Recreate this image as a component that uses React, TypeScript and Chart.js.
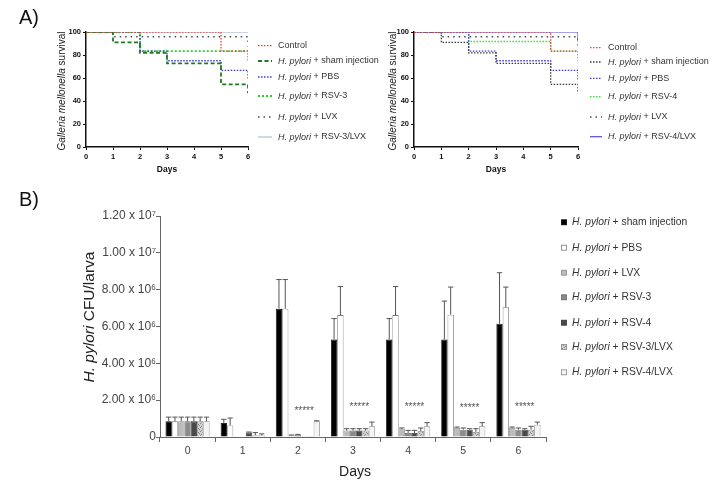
import React, { useEffect, useRef } from "react";
import { Chart, registerables } from "chart.js";
Chart.register(...registerables);

const FONT = '"Liberation Sans", Arial, Helvetica, sans-serif';

// ---------- Panel A: survival (Kaplan-Meier) ----------
const survivalDays = [0, 1, 2, 3, 4, 5, 6];
const survivalTicks = [0, 20, 40, 60, 80, 100];

const leftLabels = [
  "Control",
  "H. pylori + sham injection",
  "H. pylori + PBS",
  "H. pylori + RSV-3",
  "H. pylori + LVX",
  "H. pylori + RSV-3/LVX",
];
const leftControl = [100, 100, 100, 100, 100, 83.3, 75];
const leftSham = [100, 90.9, 81.8, 72.7, 72.7, 54.5, 46.7];
const leftPBS = [100, 100, 83.3, 75, 75, 66.7, 58.3];
const leftRSV3 = [100, 100, 83.3, 83.3, 83.3, 83.3, 83.3];
const leftLVX = [100, 95.8, 95.8, 95.8, 95.8, 95.8, 87.5];
const leftRSV3LVX = [100, 100, 100, 100, 100, 100, 100];

const rightLabels = [
  "Control",
  "H. pylori + sham injection",
  "H. pylori + PBS",
  "H. pylori + RSV-4",
  "H. pylori + LVX",
  "H. pylori + RSV-4/LVX",
];
const rightControl = [100, 100, 100, 100, 100, 83.3, 75];
const rightSham = [100, 90.9, 81.8, 72.7, 72.7, 54.5, 46.7];
const rightPBS = [100, 100, 83.3, 75, 75, 66.7, 58.3];
const rightRSV4 = [100, 100, 91.7, 91.7, 91.7, 83.3, 83.3];
const rightLVX = [100, 95.8, 95.8, 95.8, 95.8, 95.8, 87.5];
const rightRSV4LVX = [100, 100, 100, 100, 100, 100, 91.7];

// ---------- Panel B: CFU per larva (values in millions) ----------
const cfuDays = ["0", "1", "2", "3", "4", "5", "6"];
const cfuTickLabels = ["0", "2.00 x 10\u2076", "4.00 x 10\u2076", "6.00 x 10\u2076", "8.00 x 10\u2076", "1.00 x 10\u2077", "1.20 x 10\u2077"];
const cfuLabels = [
  "H. pylori + sham injection",
  "H. pylori + PBS",
  "H. pylori + LVX",
  "H. pylori + RSV-3",
  "H. pylori + RSV-4",
  "H. pylori + RSV-3/LVX",
  "H. pylori + RSV-4/LVX",
];
const shamMean = [0.85, 0.76, 6.97, 5.29, 5.29, 5.29, 6.15];
const shamErr = [0.23, 0.2, 1.58, 1.14, 1.14, 2.09, 2.77];
const pbsMean = [0.85, 0.63, 6.97, 6.62, 6.62, 6.64, 7.04];
const pbsErr = [0.23, 0.4, 1.58, 1.55, 1.55, 1.5, 1.1];
const lvxMean = [0.85, 0.02, 0.1, 0.35, 0.42, 0.49, 0.49];
const lvxErr = [0.23, 0, 0.01, 0.1, 0.07, 0.05, 0.05];
const rsv3Mean = [0.85, 0.03, 0.12, 0.35, 0.22, 0.4, 0.4];
const rsv3Err = [0.23, 0, 0.02, 0.1, 0.14, 0.09, 0.09];
const rsv4Mean = [0.85, 0.24, 0.01, 0.35, 0.22, 0.4, 0.4];
const rsv4Err = [0.23, 0.03, 0, 0.1, 0.14, 0.05, 0.05];
const rsv3lvxMean = [0.85, 0.1, 0.05, 0.35, 0.33, 0.27, 0.4];
const rsv3lvxErr = [0.23, 0.14, 0, 0.1, 0.16, 0.18, 0.18];
const rsv4lvxMean = [0.85, 0.1, 0.85, 0.58, 0.58, 0.58, 0.67];
const rsv4lvxErr = [0.23, 0.07, 0.03, 0.23, 0.2, 0.2, 0.14];
const starDays = [2, 3, 4, 5, 6];
const starLevels = [1.5, 1.72, 1.72, 1.67, 1.72];

type Seg = { t: string; i?: boolean; b?: boolean };

function drawSegs(ctx: CanvasRenderingContext2D, segs: Seg[], x: number, y: number, size: number, color: string, align: "left" | "center" = "left") {
  const fonts = segs.map((s) => `${s.i ? "italic " : ""}${s.b ? "bold " : ""}${size}px ${FONT}`);
  const widths = segs.map((s, k) => {
    ctx.font = fonts[k];
    return ctx.measureText(s.t).width;
  });
  const total = widths.reduce((a, b) => a + b, 0);
  let sx = align === "center" ? x - total / 2 : x;
  ctx.textAlign = "left";
  ctx.textBaseline = "middle";
  ctx.fillStyle = color;
  segs.forEach((s, k) => {
    ctx.font = fonts[k];
    ctx.fillText(s.t, sx, y);
    sx += widths[k];
  });
}

function labelSegs(label: string): Seg[] {
  if (label.startsWith("H. pylori")) return [{ t: "H. pylori", i: true }, { t: label.slice(9) }];
  return [{ t: label }];
}

function pts(vals: number[]) {
  return survivalDays.map((d, k) => ({ x: d, y: vals[k] }));
}

type SurvOpts = {
  yAxisWidth: number;
  padRight: number;
  titleX: number;
  titleY: number;
  daysY: number;
  rows: number[];
  sx0: number;
  sx1: number;
  tx: number;
  panel?: string;
};

function makeSurvival(canvas: HTMLCanvasElement, datasets: any[], o: SurvOpts) {
  const decor = {
    id: "survDecor",
    afterDraw(chart: any) {
      const ctx: CanvasRenderingContext2D = chart.ctx;
      ctx.save();
      ctx.translate(o.titleX, o.titleY);
      ctx.rotate(-Math.PI / 2);
      drawSegs(ctx, [{ t: "Galleria mellonella", i: true }, { t: " survival" }], 0, 0, 10, "#222", "center");
      ctx.restore();
      ctx.save();
      const ca = chart.chartArea;
      drawSegs(ctx, [{ t: "Days", b: true }], (ca.left + ca.right) / 2, o.daysY, 8.5, "#111", "center");
      chart.data.datasets.forEach((ds: any, i: number) => {
        const y = o.rows[i];
        ctx.save();
        ctx.strokeStyle = ds.borderColor;
        ctx.lineWidth = ds.borderWidth;
        ctx.setLineDash(ds.borderDash || []);
        ctx.beginPath();
        ctx.moveTo(o.sx0, y);
        ctx.lineTo(o.sx1, y);
        ctx.stroke();
        ctx.restore();
        drawSegs(ctx, labelSegs(ds.label), o.tx, y, 9, "#333", "left");
      });
      if (o.panel) drawSegs(ctx, [{ t: o.panel }], 19, 18, 20, "#111", "left");
      ctx.restore();
    },
  };
  return new Chart(canvas, {
    type: "line",
    data: { datasets },
    options: {
      animation: false,
      responsive: false,
      layout: { padding: { top: 32, right: o.padRight, left: 0, bottom: 0 } },
      plugins: { legend: { display: false }, tooltip: { enabled: false } },
      elements: { point: { radius: 0 }, line: { tension: 0 } },
      scales: {
        x: {
          type: "linear",
          min: 0,
          max: 6,
          ticks: { stepSize: 1, font: { size: 7.5, weight: "bold", family: FONT }, color: "#111", padding: 2 },
          grid: { drawOnChartArea: false, drawTicks: true, tickLength: 3, color: "#111", lineWidth: 1 },
          border: { color: "#111", width: 1.5 },
          afterFit: (s: any) => {
            s.height = 33;
          },
        },
        y: {
          min: 0,
          max: 100,
          afterBuildTicks: (s: any) => {
            s.ticks = survivalTicks.map((v) => ({ value: v }));
          },
          ticks: { font: { size: 7.5, weight: "bold", family: FONT }, color: "#111", padding: 2 },
          grid: { drawOnChartArea: false, drawTicks: true, tickLength: 3, color: "#111", lineWidth: 1 },
          border: { color: "#111", width: 1.5 },
          afterFit: (s: any) => {
            s.width = o.yAxisWidth;
          },
        },
      },
    } as any,
    plugins: [decor],
  });
}

function makePattern(ctx: CanvasRenderingContext2D) {
  const c = document.createElement("canvas");
  c.width = 4;
  c.height = 4;
  const g = c.getContext("2d")!;
  g.fillStyle = "#d0d0d0";
  g.fillRect(0, 0, 4, 4);
  g.fillStyle = "#8c8c8c";
  g.fillRect(0, 0, 1, 1);
  g.fillRect(2, 1, 1, 1);
  g.fillRect(1, 3, 1, 1);
  g.fillRect(3, 2, 1, 1);
  return ctx.createPattern(c, "repeat");
}

function makeBars(canvas: HTMLCanvasElement) {
  const ctx0 = canvas.getContext("2d")!;
  const pattern = makePattern(ctx0);
  const means = [shamMean, pbsMean, lvxMean, rsv3Mean, rsv4Mean, rsv3lvxMean, rsv4lvxMean];
  const errs = [shamErr, pbsErr, lvxErr, rsv3Err, rsv4Err, rsv3lvxErr, rsv4lvxErr];
  const fills: any[] = ["#000000", "#ffffff", "#bcbcbc", "#8a8a8a", "#4a4a4a", pattern, "#f4f4f4"];
  const borders = ["#000000", "#777777", "#8a8a8a", "#666666", "#333333", "#888888", "#888888"];
  const datasets = cfuLabels.map((label, i) => ({
    label,
    data: means[i],
    backgroundColor: fills[i],
    borderColor: borders[i],
    borderWidth: 0.8,
  }));

  const decor = {
    id: "barDecor",
    afterDatasetsDraw(chart: any) {
      const ctx: CanvasRenderingContext2D = chart.ctx;
      const ys = chart.scales.y;
      ctx.save();
      ctx.strokeStyle = "#555";
      ctx.lineWidth = 1;
      chart.data.datasets.forEach((ds: any, i: number) => {
        const meta = chart.getDatasetMeta(i);
        meta.data.forEach((bar: any, j: number) => {
          const e = errs[i][j];
          if (!(e > 0)) return;
          const top = ys.getPixelForValue(ds.data[j] + e);
          const hw = Math.max(1.5, bar.width / 2 - 0.5);
          ctx.beginPath();
          ctx.moveTo(bar.x, bar.y);
          ctx.lineTo(bar.x, top);
          ctx.moveTo(bar.x - hw, top);
          ctx.lineTo(bar.x + hw, top);
          ctx.stroke();
        });
      });
      // significance stars
      const starMeta = chart.getDatasetMeta(4);
      starDays.forEach((d, k) => {
        const el: any = starMeta.data[d];
        const y = ys.getPixelForValue(starLevels[k]);
        ctx.font = `10px ${FONT}`;
        ctx.textAlign = "center";
        ctx.textBaseline = "middle";
        ctx.fillStyle = "#555";
        ctx.fillText("*****", el.x, y + 2);
      });
      ctx.restore();
    },
    afterDraw(chart: any) {
      const ctx: CanvasRenderingContext2D = chart.ctx;
      const ca = chart.chartArea;
      ctx.save();
      drawSegs(ctx, [{ t: "B)" }], 19, 25, 20, "#111", "left");
      drawSegs(ctx, [{ t: "Days" }], (ca.left + ca.right) / 2 + 2, 297, 14, "#222", "center");
      ctx.save();
      ctx.translate(90, 142);
      ctx.rotate(-Math.PI / 2);
      drawSegs(ctx, [{ t: "H. pylori", i: true }, { t: " CFU/larva" }], 0, 0, 15.5, "#222", "center");
      ctx.restore();
      const rows = [47.3, 72.7, 97.7, 122.3, 147.7, 172, 197.3];
      chart.data.datasets.forEach((ds: any, i: number) => {
        const y = rows[i];
        ctx.fillStyle = ds.backgroundColor;
        ctx.fillRect(561.5, y - 2.5, 5, 5);
        ctx.strokeStyle = ds.borderColor;
        ctx.lineWidth = 0.8;
        ctx.strokeRect(561.5, y - 2.5, 5, 5);
        drawSegs(ctx, labelSegs(ds.label), 572, y, 10.3, "#333", "left");
      });
      ctx.restore();
    },
  };

  return new Chart(canvas, {
    type: "bar",
    data: { labels: cfuDays, datasets },
    options: {
      animation: false,
      responsive: false,
      layout: { padding: { top: 41, right: 182, left: 0, bottom: 0 } },
      plugins: { legend: { display: false }, tooltip: { enabled: false } },
      datasets: { bar: { categoryPercentage: 0.8, barPercentage: 1 } },
      scales: {
        x: {
          grid: { drawOnChartArea: false, drawTicks: true, tickLength: 5, color: "#666", offset: true },
          border: { color: "#666", width: 1 },
          ticks: { font: { size: 10.5, family: FONT }, color: "#444", padding: 3 },
          afterFit: (s: any) => {
            s.height = 52;
          },
        },
        y: {
          min: 0,
          max: 12,
          ticks: {
            stepSize: 2,
            callback: (_v: any, i: number) => cfuTickLabels[i],
            font: { size: 12, family: FONT },
            color: "#444",
            padding: 0,
          },
          grid: { drawOnChartArea: false, drawTicks: true, tickLength: 4, color: "#666" },
          border: { color: "#666", width: 1 },
          afterFit: (s: any) => {
            s.width = 160;
          },
        },
      },
    } as any,
    plugins: [decor],
  });
}

export default function App() {
  const leftRef = useRef<HTMLCanvasElement>(null);
  const rightRef = useRef<HTMLCanvasElement>(null);
  const barRef = useRef<HTMLCanvasElement>(null);

  useEffect(() => {
    const left = makeSurvival(
      leftRef.current!,
      [
        { label: leftLabels[0], data: pts(leftControl), borderColor: "#e8433a", borderWidth: 1.3, borderDash: [1.5, 1.5], stepped: true },
        { label: leftLabels[1], data: pts(leftSham), borderColor: "#1d7a22", borderWidth: 1.8, borderDash: [4, 2.5], stepped: true },
        { label: leftLabels[2], data: pts(leftPBS), borderColor: "#3a3ad8", borderWidth: 1.3, borderDash: [1.5, 1.5], stepped: true },
        { label: leftLabels[3], data: pts(leftRSV3), borderColor: "#27d127", borderWidth: 1.8, borderDash: [2, 2], stepped: true },
        { label: leftLabels[4], data: pts(leftLVX), borderColor: "#4a4a4a", borderWidth: 1.5, borderDash: [1.5, 4], stepped: true },
        { label: leftLabels[5], data: pts(leftRSV3LVX), borderColor: "#b9c6d6", borderWidth: 1.3, borderDash: [], stepped: true },
      ],
      { yAxisWidth: 86, padRight: 137, titleX: 62, titleY: 91, daysY: 170, rows: [45.7, 61, 77, 96, 117, 137], sx0: 258, sx1: 272, tx: 278, panel: "A)" }
    );
    const right = makeSurvival(
      rightRef.current!,
      [
        { label: rightLabels[0], data: pts(rightControl), borderColor: "#e8433a", borderWidth: 1.3, borderDash: [1.5, 1.5], stepped: true },
        { label: rightLabels[1], data: pts(rightSham), borderColor: "#3a3a3a", borderWidth: 1.3, borderDash: [1.5, 1.5], stepped: true },
        { label: rightLabels[2], data: pts(rightPBS), borderColor: "#3a3ad8", borderWidth: 1.3, borderDash: [1.5, 1.5], stepped: true },
        { label: rightLabels[3], data: pts(rightRSV4), borderColor: "#3ddc3d", borderWidth: 1.5, borderDash: [1.5, 1.5], stepped: true },
        { label: rightLabels[4], data: pts(rightLVX), borderColor: "#4a4a4a", borderWidth: 1.5, borderDash: [1.5, 4], stepped: true },
        { label: rightLabels[5], data: pts(rightRSV4LVX), borderColor: "#4b4be0", borderWidth: 1.2, borderDash: [], stepped: true },
      ],
      { yAxisWidth: 44, padRight: 150, titleX: 23, titleY: 91, daysY: 170, rows: [47.7, 62, 78.3, 96.7, 117, 136.7], sx0: 220, sx1: 232, tx: 238 }
    );
    const bars = makeBars(barRef.current!);
    return () => {
      left.destroy();
      right.destroy();
      bars.destroy();
    };
  }, []);

  return (
    <div style={{ position: "fixed", left: 0, top: 0, width: 728, height: 489, background: "#fff", overflow: "hidden" }}>
      <canvas ref={leftRef} width={385} height={180} style={{ position: "absolute", left: 0, top: 0, width: 385, height: 180 }} />
      <canvas ref={rightRef} width={358} height={180} style={{ position: "absolute", left: 370, top: 0, width: 358, height: 180 }} />
      <canvas ref={barRef} width={728} height={314} style={{ position: "absolute", left: 0, top: 175, width: 728, height: 314 }} />
    </div>
  );
}
